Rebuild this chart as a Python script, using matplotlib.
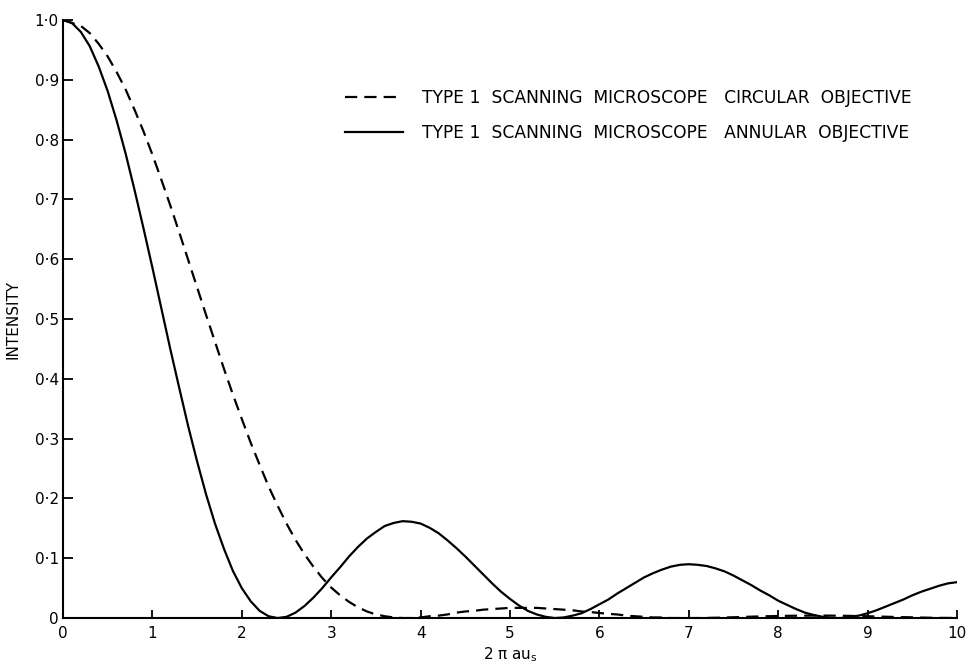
import matplotlib
matplotlib.use('Agg')
import matplotlib.pyplot as plt

x = [round(0.1 * i, 1) for i in range(101)]

annular = [1.000, 0.995, 0.980, 0.956, 0.922, 0.881, 0.832, 0.777, 0.716, 0.652,
           0.586, 0.518, 0.450, 0.385, 0.321, 0.262, 0.207, 0.158, 0.116, 0.079,
           0.050, 0.028, 0.012, 0.003, 0.000, 0.002, 0.009, 0.020, 0.034, 0.050,
           0.068, 0.085, 0.103, 0.119, 0.133, 0.144, 0.154, 0.159, 0.162, 0.161,
           0.158, 0.151, 0.142, 0.130, 0.117, 0.103, 0.088, 0.073, 0.058, 0.044,
           0.032, 0.021, 0.012, 0.006, 0.002, 0.000, 0.001, 0.004, 0.008, 0.015,
           0.023, 0.031, 0.041, 0.050, 0.059, 0.068, 0.075, 0.081, 0.086, 0.089,
           0.090, 0.089, 0.087, 0.083, 0.078, 0.071, 0.063, 0.055, 0.046, 0.038,
           0.029, 0.022, 0.015, 0.009, 0.005, 0.002, 0.000, 0.000, 0.002, 0.004,
           0.008, 0.013, 0.019, 0.025, 0.031, 0.038, 0.044, 0.049, 0.054, 0.058,
           0.060]

circular = [1.000, 0.995, 0.990, 0.978, 0.960, 0.939, 0.913, 0.884, 0.850, 0.814,
            0.775, 0.733, 0.690, 0.645, 0.599, 0.553, 0.507, 0.462, 0.417, 0.374,
            0.333, 0.293, 0.256, 0.220, 0.188, 0.158, 0.131, 0.107, 0.086, 0.067,
            0.051, 0.038, 0.027, 0.018, 0.011, 0.006, 0.003, 0.001, 0.000, 0.000,
            0.001, 0.003, 0.004, 0.006, 0.009, 0.011, 0.012, 0.014, 0.015, 0.016,
            0.017, 0.017, 0.017, 0.017, 0.016, 0.015, 0.014, 0.013, 0.011, 0.010,
            0.0085, 0.007, 0.006, 0.004, 0.003, 0.002, 0.001, 0.001, 0.000, 0.000,
            0.000, 0.000, 0.0002, 0.0005, 0.0009, 0.0013, 0.0018, 0.0023, 0.0027, 0.0031,
            0.0034, 0.0037, 0.0039, 0.0040, 0.0041, 0.0041, 0.0040, 0.0039, 0.0036, 0.0033,
            0.0030, 0.0026, 0.0022, 0.0018, 0.0015, 0.0012, 0.0008, 0.0005, 0.0003, 0.0002,
            0.0001]

yticks = [0, 0.1, 0.2, 0.3, 0.4, 0.5, 0.6, 0.7, 0.8, 0.9, 1.0]
ylabels = ['0', '0·1', '0·2', '0·3', '0·4', '0·5', '0·6', '0·7', '0·8', '0·9', '1·0']
xticks = [0, 1, 2, 3, 4, 5, 6, 7, 8, 9, 10]

fig = plt.figure(figsize=(9.66, 6.66), dpi=100)
ax = fig.add_axes([0.0652, 0.072, 0.9255, 0.898])

ax.plot(x, circular, color='black', linewidth=1.6, linestyle=(0, (5.5, 3.2)),
        label='TYPE 1  SCANNING  MICROSCOPE   CIRCULAR  OBJECTIVE')
ax.plot(x, annular, color='black', linewidth=1.6,
        label='TYPE 1  SCANNING  MICROSCOPE   ANNULAR  OBJECTIVE')

ax.set_xlim(0, 10)
ax.set_ylim(0, 1.0)
ax.set_xticks(xticks)
ax.set_yticks(yticks)
ax.set_yticklabels(ylabels)

ax.spines['top'].set_visible(False)
ax.spines['right'].set_visible(False)
ax.spines['left'].set_linewidth(1.5)
ax.spines['bottom'].set_linewidth(1.5)
ax.tick_params(axis='x', direction='in', length=6, width=1.3, labelsize=11, pad=6)
ax.tick_params(axis='y', direction='in', length=7, width=1.3, labelsize=11, pad=3)

ax.set_xlabel('2 π au$_{\\rm s}$', fontsize=11, labelpad=3)
ax.set_ylabel('INTENSITY', fontsize=11, labelpad=10)

ax.legend(loc='upper left', bbox_to_anchor=(0.3154, 0.884), frameon=False,
          fontsize=12.3, handlelength=3.4, handletextpad=1.1, labelspacing=0.95,
          borderpad=0, borderaxespad=0)

fig.savefig('out.png', dpi=100)
